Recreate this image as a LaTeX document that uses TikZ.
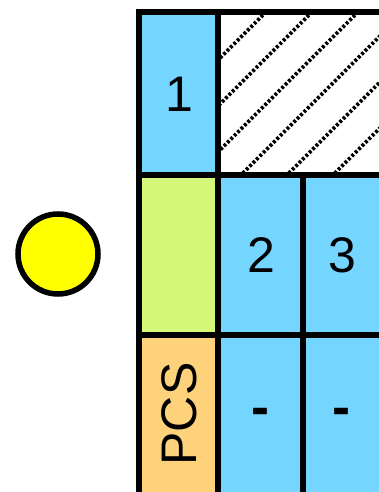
\documentclass[tikz,border=0pt]{standalone}
\usepackage{fontspec}
\setmainfont{Liberation Sans}
\definecolor{cellblue}{RGB}{116,213,255}
\definecolor{cellgreen}{RGB}{213,248,122}
\definecolor{cellorange}{RGB}{253,210,122}
\definecolor{dotyellow}{RGB}{255,255,0}
\begin{document}
\begin{tikzpicture}[x=1pt,y=-1pt,
  grid/.style={line width=5.5pt,line cap=rect},
  hatchline/.style={line width=3.8pt,dash pattern=on 2.8pt off 2pt,black},
  lbl/.style={inner sep=0pt,font=\fontsize{50}{60}\selectfont}]
\useasboundingbox (0,0) rectangle (379,492);
% fills
\fill[cellblue] (139,12) rectangle (218,175);
\fill[white] (218,12) rectangle (379,175);
\fill[cellgreen] (139,175) rectangle (218,335);
\fill[cellorange] (139,335) rectangle (218,495);
\fill[cellblue] (218,175) rectangle (379,495);
% hatch
\begin{scope}
\clip (220,14) rectangle (379,173);
\foreach \c in {232,278,324,370,416,462,508,554}{
  \draw[hatchline] (\c-180,180) -- (\c,0);
}
\end{scope}
% grid lines
\coordinate (tl) at (139,12);
\coordinate (tr) at (380,12);
\coordinate (bl) at (139,495);
\coordinate (t1) at (218,12);
\coordinate (b1) at (218,495);
\coordinate (m1l) at (139,175);
\coordinate (m1r) at (380,175);
\coordinate (m2l) at (139,335);
\coordinate (m2r) at (380,335);
\coordinate (c3t) at (303,175);
\coordinate (c3b) at (303,495);
\draw[grid] (bl) -- (tl) -- (tr);
\draw[grid] (t1) -- (b1);
\draw[grid] (m1l) -- (m1r);
\draw[grid] (m2l) -- (m2r);
\draw[grid] (c3t) -- (c3b);
% labels
\node[lbl] (one) at (179,94) {1};
\node[lbl] (two) at (261,255) {2};
\node[lbl] (three) at (342,255) {3};
\node[lbl,rotate=90] (pcs) at (179,414) {PCS};
\node[lbl,font=\fontsize{54}{60}\selectfont\bfseries] (d1) at (260,417) {-};
\node[lbl,font=\fontsize{54}{60}\selectfont\bfseries] (d2) at (341,417) {-};
% circle
\node[circle,draw=black,fill=dotyellow,line width=5.5pt,minimum size=80pt,inner sep=0pt] (sun) at (58,254) {};
\end{tikzpicture}
\end{document}
